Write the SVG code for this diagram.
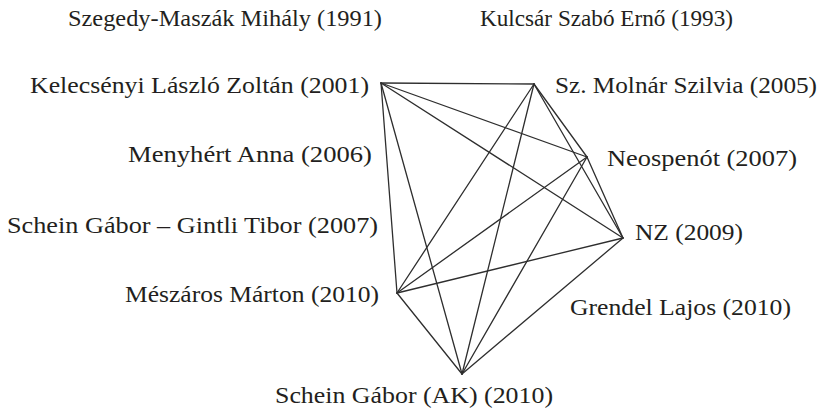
<svg xmlns="http://www.w3.org/2000/svg" width="823" height="409" viewBox="0 0 823 409">
  <style>
    .lbl { font-family: "Liberation Serif", "DejaVu Serif", serif; font-size: 23px; fill: #231f20; }
    .edge { stroke: #2e2e2e; stroke-width: 1.3; fill: none; stroke-linecap: round; }
  </style>
  <rect width="823" height="409" fill="#ffffff"/>

  <g id="connectors">
    <!-- Kelecsényi -->
    <line class="edge" x1="381" y1="83" x2="534" y2="84"/>
    <line class="edge" x1="381" y1="83" x2="587" y2="157"/>
    <line class="edge" x1="381" y1="83" x2="623" y2="238"/>
    <line class="edge" x1="381" y1="83" x2="397" y2="293"/>
    <line class="edge" x1="381" y1="83" x2="462" y2="374"/>
    <!-- Sz. Molnár -->
    <line class="edge" x1="534" y1="84" x2="587" y2="157"/>
    <line class="edge" x1="534" y1="84" x2="623" y2="238"/>
    <line class="edge" x1="534" y1="84" x2="397" y2="293"/>
    <line class="edge" x1="534" y1="84" x2="462" y2="374"/>
    <!-- Neospenót -->
    <line class="edge" x1="587" y1="157" x2="623" y2="238"/>
    <line class="edge" x1="587" y1="157" x2="397" y2="293"/>
    <line class="edge" x1="587" y1="157" x2="462" y2="374"/>
    <!-- NZ -->
    <line class="edge" x1="623" y1="238" x2="397" y2="293"/>
    <line class="edge" x1="623" y1="238" x2="462" y2="374"/>
    <!-- Mészáros -->
    <line class="edge" x1="397" y1="293" x2="462" y2="374"/>
  </g>

  <g id="szegedy-maszak"><text class="lbl" x="68" y="26" textLength="314" lengthAdjust="spacingAndGlyphs">Szegedy-Maszák Mihály (1991)</text></g>
  <g id="kulcsar-szabo"><text class="lbl" x="480" y="26" textLength="253" lengthAdjust="spacingAndGlyphs">Kulcsár Szabó Ernő (1993)</text></g>
  <g id="kelecsenyi"><text class="lbl" x="30" y="93" textLength="339" lengthAdjust="spacingAndGlyphs">Kelecsényi László Zoltán (2001)</text></g>
  <g id="sz-molnar"><text class="lbl" x="555" y="93" textLength="262" lengthAdjust="spacingAndGlyphs">Sz. Molnár Szilvia (2005)</text></g>
  <g id="menyhert"><text class="lbl" x="128" y="162" textLength="244" lengthAdjust="spacingAndGlyphs">Menyhért Anna (2006)</text></g>
  <g id="neospenot"><text class="lbl" x="607" y="166" textLength="190" lengthAdjust="spacingAndGlyphs">Neospenót (2007)</text></g>
  <g id="schein-gintli"><text class="lbl" x="7" y="233" textLength="371" lengthAdjust="spacingAndGlyphs">Schein Gábor – Gintli Tibor (2007)</text></g>
  <g id="nz"><text class="lbl" x="635" y="240" textLength="108" lengthAdjust="spacingAndGlyphs">NZ (2009)</text></g>
  <g id="meszaros"><text class="lbl" x="125" y="302" textLength="254" lengthAdjust="spacingAndGlyphs">Mészáros Márton (2010)</text></g>
  <g id="grendel"><text class="lbl" x="570" y="315" textLength="221" lengthAdjust="spacingAndGlyphs">Grendel Lajos (2010)</text></g>
  <g id="schein-ak"><text class="lbl" x="275" y="403" textLength="278" lengthAdjust="spacingAndGlyphs">Schein Gábor (AK) (2010)</text></g>
</svg>
